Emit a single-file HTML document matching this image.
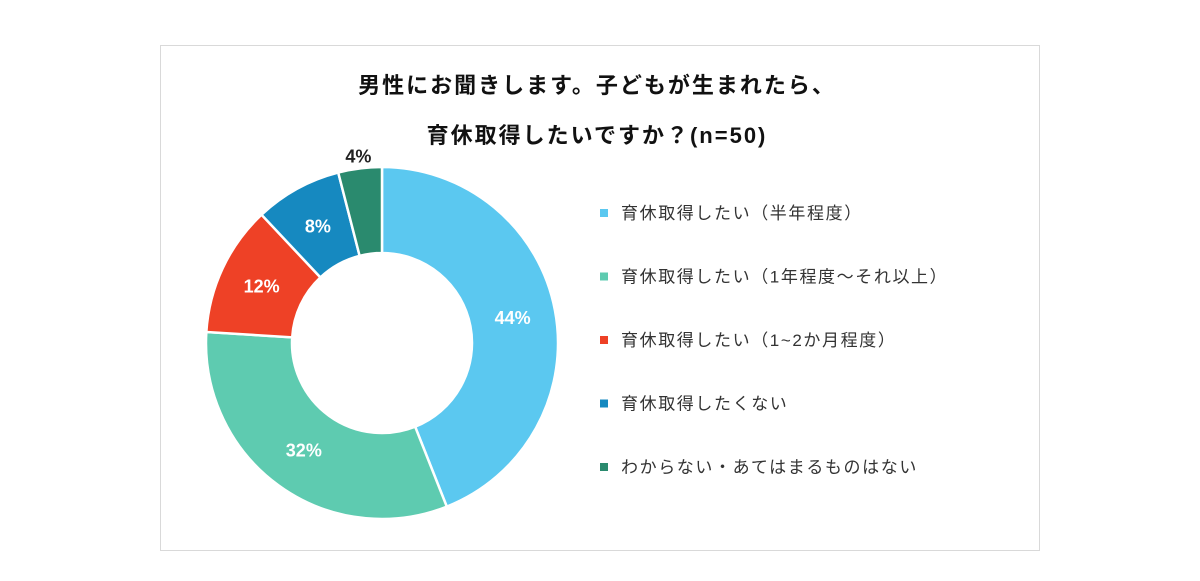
<!DOCTYPE html>
<html><head><meta charset="utf-8"><style>
body{margin:0;background:#fff;}
#wrap{position:relative;width:1200px;height:581px;overflow:hidden;font-family:"Liberation Sans","Noto Sans CJK JP",sans-serif;}
</style></head><body>
<div id="wrap">
<svg width="1200" height="581">
<rect x="160.5" y="45.5" width="879" height="505" fill="#fff" stroke="#d9d9d9"/>
<text x="597" y="93" text-anchor="middle" font-size="22" letter-spacing="2" font-weight="bold" fill="#111">男性にお聞きします。子どもが生まれたら、</text>
<text x="597" y="143" text-anchor="middle" font-size="22" letter-spacing="2" font-weight="bold" fill="#111">育休取得したいですか？(n=50)</text>
<g id="slices"></g>
<g id="legend"></g>
</svg>
</div>
<script>
const categories=["育休取得したい（半年程度）","育休取得したい（1年程度～それ以上）","育休取得したい（1~2か月程度）","育休取得したくない","わからない・あてはまるものはない"];
const values=[44,32,12,8,4];
const colors=["#5bc8f0","#5ecbb0","#ee4126","#1689c0","#2a8a6e"];
const labelColors=["#fff","#fff","#fff","#fff","#222"];
const cx=382,cy=343,R=176,r=90;
const ns="http://www.w3.org/2000/svg";
const sg=document.getElementById('slices');
const total=values.reduce((a,b)=>a+b,0);
let acc=0;
function pt(a,rad){return [cx+rad*Math.sin(a),cy-rad*Math.cos(a)];}
values.forEach((v,i)=>{
 const a0=acc/total*2*Math.PI;acc+=v;const a1=acc/total*2*Math.PI;
 const large=(a1-a0)>Math.PI?1:0;
 const p0=pt(a0,R),p1=pt(a1,R),q1=pt(a1,r),q0=pt(a0,r);
 const p=document.createElementNS(ns,'path');
 p.setAttribute('d',`M${p0}A${R},${R} 0 ${large} 1 ${p1}L${q1}A${r},${r} 0 ${large} 0 ${q0}Z`);
 p.setAttribute('fill',colors[i]);p.setAttribute('stroke','#fff');p.setAttribute('stroke-width','2.5');
 
 
 sg.appendChild(p);
 const am=(a0+a1)/2;
 const lr=i===4?R+12:(R+r)/2;
 const lp=pt(am,lr);
 const t=document.createElementNS(ns,'text');
 t.setAttribute('x',lp[0]);t.setAttribute('y',lp[1]+6);
 t.setAttribute('text-anchor','middle');t.setAttribute('font-size','18');t.setAttribute('font-weight','bold');
 t.setAttribute('fill',labelColors[i]);
 t.textContent=v+'%';
 
 
 sg.appendChild(t);
});
const lg=document.getElementById('legend');
categories.forEach((c,i)=>{
 const y=213+i*63.5;
 const s=document.createElementNS(ns,'rect');
 s.setAttribute('x',600);s.setAttribute('y',y-4);s.setAttribute('width',8);s.setAttribute('height',8);s.setAttribute('fill',colors[i]);
 
 
 lg.appendChild(s);
 const t=document.createElementNS(ns,'text');
 t.setAttribute('x',621);t.setAttribute('y',y+6);t.setAttribute('font-size','17');t.setAttribute('letter-spacing','1.6');t.setAttribute('fill','#333');
 t.textContent=c;
 
 
 lg.appendChild(t);
});
</script>
</body></html>
